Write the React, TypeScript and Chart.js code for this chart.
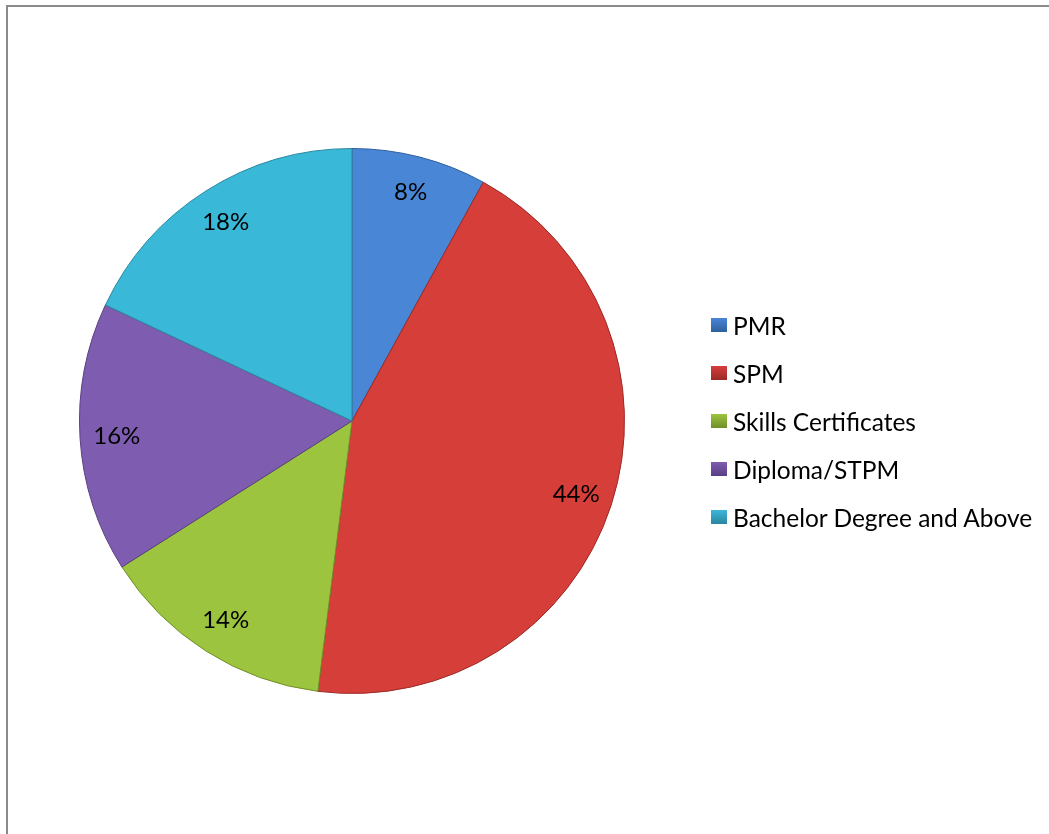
import React, { useEffect, useRef } from "react";
import { Chart, registerables } from "chart.js";

Chart.register(...registerables);

const categories = ["PMR", "SPM", "Skills Certificates", "Diploma/STPM", "Bachelor Degree and Above"];
const shares = [8, 44, 14, 16, 18];
const sliceColors = ["#4a86d6", "#d63e3a", "#9cc43e", "#7e5cb0", "#3ab8d8"];
const edgeColors = ["#2f5f9e", "#9a2a27", "#6f8f2a", "#5a3f82", "#2a869e"];

const FONT = "Lato, 'Open Sans', sans-serif";

const labelPlugin = {
  id: "pctLabels",
  afterDatasetsDraw(chart: any) {
    const ctx = chart.ctx;
    const meta = chart.getDatasetMeta(0);
    ctx.save();
    ctx.fillStyle = "#000";
    ctx.font = `24px ${FONT}`;
    ctx.textAlign = "center";
    ctx.textBaseline = "middle";
    meta.data.forEach((arc: any, i: number) => {
      const { x, y, startAngle, endAngle, outerRadius } = arc.getProps(
        ["x", "y", "startAngle", "endAngle", "outerRadius"],
        true
      );
      const mid = (startAngle + endAngle) / 2;
      const r = outerRadius * 0.865;
      ctx.fillText(shares[i] + "%", x + Math.cos(mid) * r, y + Math.sin(mid) * r);
    });
    ctx.restore();
  },
};

export default function App() {
  const ref = useRef<HTMLCanvasElement>(null);
  useEffect(() => {
    if (!ref.current) return;
    const chart = new Chart(ref.current, {
      type: "pie",
      data: {
        labels: categories,
        datasets: [
          {
            data: shares,
            backgroundColor: sliceColors,
            borderColor: edgeColors,
            borderWidth: 1,
          },
        ],
      },
      options: {
        animation: false,
        responsive: false,
        layout: { padding: { left: 79, right: 424, top: 148, bottom: 140 } },
        plugins: { legend: { display: false }, tooltip: { enabled: false } },
      },
      plugins: [labelPlugin],
    });
    return () => chart.destroy();
  }, []);

  return (
    <div style={{ position: "fixed", left: 0, top: 0, width: 1049, height: 834, background: "#fff", overflow: "hidden" }}>
      <div
        style={{
          position: "absolute",
          left: 6,
          top: 5,
          width: 1100,
          height: 900,
          borderLeft: "2px solid #8a8a8a",
          borderTop: "2px solid #8a8a8a",
        }}
      />
      <canvas ref={ref} width={1049} height={834} style={{ position: "absolute", left: 0, top: 0 }} />
      <div style={{ position: "absolute", left: 711, top: 301, fontFamily: FONT, fontSize: 24.5, color: "#000" }}>
        {categories.map((c, i) => (
          <div key={c} style={{ height: 48, display: "flex", alignItems: "center", whiteSpace: "nowrap" }}>
            <span
              style={{
                display: "inline-block",
                width: 16,
                height: 14,
                marginRight: 6,
                background: `linear-gradient(180deg, ${sliceColors[i]}, ${edgeColors[i]})`,
              }}
            />
            <span>{c}</span>
          </div>
        ))}
      </div>
    </div>
  );
}
